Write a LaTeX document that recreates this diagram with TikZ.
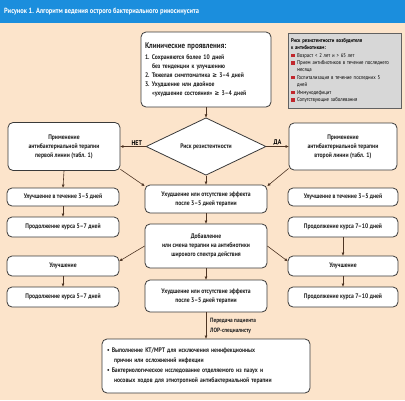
\documentclass[tikz,border=0pt]{standalone}
\usepackage{fontspec}
\setmainfont{PT Sans}[FakeStretch=0.86]
\newfontfamily\symf{DejaVu Sans}[FakeStretch=0.86]
\usetikzlibrary{shapes.geometric,arrows.meta}
\definecolor{bgpeach}{HTML}{FCE4CB}
\definecolor{titleblue}{HTML}{1B8EDD}
\definecolor{boxline}{HTML}{3A3A3A}
\definecolor{arrowc}{HTML}{4E3524}
\definecolor{riskgray}{HTML}{D7D7D7}
\definecolor{bulletred}{HTML}{C1272D}
\definecolor{txt}{HTML}{222222}
\newcommand\rsq{\textcolor{bulletred}{\rule{3.5pt}{3.5pt}}\hspace{2.5pt}}
\begin{document}
\begin{tikzpicture}[x=1pt,y=-1pt,
  box/.style={draw=boxline, line width=0.8pt, fill=white, rounded corners=5pt, text=txt,
    align=center, inner sep=1pt, font=\bfseries\fontsize{6.6}{9}\selectfont},
  arr/.style={draw=arrowc, line width=0.6pt, -{Triangle[length=3pt,width=2.6pt]}},
  lbl/.style={font=\bfseries\fontsize{6.8}{9}\selectfont, inner sep=1pt}]
\fill[bgpeach] (0,0) rectangle (405,400);
\fill[titleblue] (0,0) rectangle (405,23);
\node[anchor=west, text=white, font=\bfseries\fontsize{7.5}{8}\selectfont, inner sep=0pt] (title) at (4,12)
  {Рисунок 1. Алгоритм ведения острого бактериального риносинусита};

\node[box, minimum width=130pt, minimum height=75pt, text width=122pt, align=left] (clin) at (206,69.5)
  {{\fontsize{8.2}{10}\selectfont Клинические проявления:}\\[2pt]
   1.~Сохраняются более 10 дней\\
   \hspace*{7pt}без тенденции к улучшению\\
   2.~Тяжелая симптоматика {\symf≥} 3–4 дней\\
   3.~Ухудшение или двойное\\
   \hspace*{7pt}«ухудшение состояния» {\symf≥} 3–4 дней};

\node[draw=boxline!80, line width=0.6pt, fill=riskgray, minimum width=113pt, minimum height=75pt,
  text width=107pt, align=left, inner sep=2pt, font=\fontsize{5.5}{7.4}\selectfont] (risk) at (344.5,70.5)
  {{\bfseries Риск резистентности возбудителя\\ к антибиотикам:}\\
   \rsq Возраст < 2 лет и > 65 лет\\
   \rsq Прием антибиотиков в течение последнего\\
   \hspace*{6pt}месяца\\
   \rsq Госпитализация в течение последних 5\\
   \hspace*{6pt}дней\\
   \rsq Иммунодефицит\\
   \rsq Сопутствующие заболевания};

\node[diamond, draw=boxline, line width=0.8pt, fill=white, minimum width=120pt, minimum height=47pt,
  inner sep=0pt, text=txt, font=\bfseries\fontsize{6.6}{9}\selectfont] (dia) at (206,146.5) {Риск резистентности};

\node[box, minimum width=112pt, minimum height=48pt] (left1) at (64,146.5)
  {Применение\\ антибактериальной терапии\\ первой линии (табл. 1)};
\node[box, minimum width=108pt, minimum height=47pt] (right1) at (343,146.5)
  {Применение\\ антибактериальной терапии\\ второй линии (табл. 1)};

\node[box, minimum width=112pt, minimum height=18pt] (impL) at (63,197) {Улучшение в течение 3–5 дней};
\node[box, minimum width=112pt, minimum height=20pt] (contL) at (63,227) {Продолжение курса 5–7 дней};
\node[box, minimum width=122pt, minimum height=28pt] (midA) at (206,199)
  {Ухудшение или отсутствие эффекта\\ после 3–5 дней терапии};
\node[box, minimum width=110pt, minimum height=18pt] (impR) at (343,197) {Улучшение в течение 3–5 дней};
\node[box, minimum width=110pt, minimum height=20pt] (contR) at (343,227) {Продолжение курса 7–10 дней};

\node[box, minimum width=122pt, minimum height=44pt] (midB) at (206,246)
  {Добавление\\ или смена терапии на антибиотики\\ широкого спектра действия};
\node[box, minimum width=112pt, minimum height=20pt] (imp2L) at (63,266) {Улучшение};
\node[box, minimum width=112pt, minimum height=20pt] (cont2L) at (63,297) {Продолжение курса 5–7 дней};
\node[box, minimum width=110pt, minimum height=20pt] (imp2R) at (343,266) {Улучшение};
\node[box, minimum width=110pt, minimum height=20pt] (cont2R) at (343,297) {Продолжение курса 7–10 дней};
\node[box, minimum width=122pt, minimum height=32pt] (midC) at (206,296)
  {Ухудшение или отсутствие эффекта\\ после 3–5 дней терапии};

\node[box, minimum width=208pt, minimum height=54pt, text width=198pt, align=left,
  font=\bfseries\fontsize{6.6}{10}\selectfont] (final) at (206,366)
  {• Выполнение КТ/МРТ для исключения неинфекционных\\
   \hspace*{7pt}причин или осложнений инфекции\\
   • Бактериологическое исследование отделяемого из пазух и\\
   \hspace*{7pt}носовых ходов для этиотропной антибактериальной терапии};

\node[anchor=west, align=left, text=txt, font=\bfseries\fontsize{6.2}{10}\selectfont, inner sep=0pt] (pass) at (210,326)
  {Передача пациента\\ ЛОР-специалисту};

\draw[arr] (clin.south) -- (dia.north);
\draw[arr] (dia.west) -- node[lbl, above, pos=0.35] (lnet) {НЕТ} (left1.east);
\draw[arr] (dia.east) -- node[lbl, above, pos=0.5] (lda) {ДА} (right1.west);
\draw[arr] (left1.south) -- (impL.north);
\draw[arr] (left1.-22) -- (midA.168);
\draw[arr] (dia.south) -- (midA.north);
\draw[arr] (right1.202) -- (midA.12);
\draw[arr] (impL.south) -- (contL.north);
\draw[arr] (midA.south) -- (midB.north);
\draw[arr] (contR.south) -- (imp2R.north);
\draw[arr] (midB.west) -- (imp2L.5);
\draw[arr] (midB.east) -- (imp2R.175);
\draw[arr] (midB.south) -- (midC.north);
\draw[arr] (imp2L.south) -- (cont2L.north);
\draw[arr] (imp2R.south) -- (cont2R.north);
\draw[arr] (midC.south) -- (final.north);
\end{tikzpicture}
\end{document}
